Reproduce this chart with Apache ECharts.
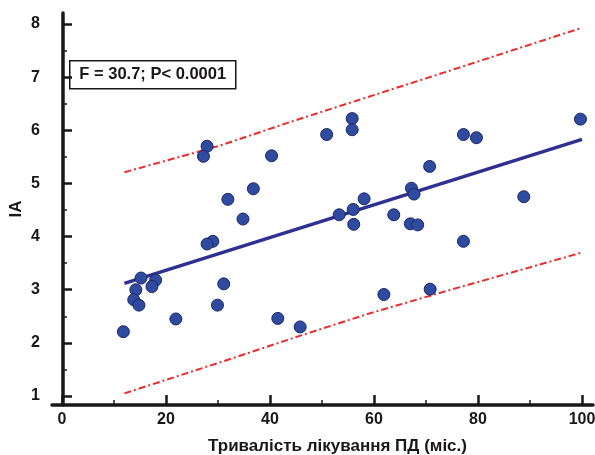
<!DOCTYPE html>
<html>
<head>
<meta charset="utf-8">
<script src="https://cdn.jsdelivr.net/npm/echarts@6/dist/echarts.min.js"></script>
<style>
  html, body { margin: 0; padding: 0; background: #fff; }
  #main { width: 595px; height: 455px; }
</style>
</head>
<body>
<div id="main"></div>
<script>
// тривалість лікування (міс.) / IA
var months = [27.9, 27.2, 40.3, 36.8, 31.9, 34.8, 29.0, 27.9,
  15.2, 18.0, 17.3, 14.2, 13.8, 14.8, 31.1, 29.9, 21.9, 11.8,
  50.9, 55.8, 55.8, 70.7, 67.2, 67.7, 58.1, 56.0, 53.3, 56.1, 63.8, 67.0, 68.4,
  41.5, 45.8, 61.9, 70.8,
  77.2, 79.7, 99.7, 88.8, 77.2];
var iaValues = [5.70, 5.51, 5.52, 4.90, 4.70, 4.33, 3.91, 3.86,
  3.22, 3.18, 3.06, 3.00, 2.81, 2.71, 3.11, 2.71, 2.45, 2.21,
  5.92, 6.22, 6.01, 5.32, 4.91, 4.80, 4.71, 4.51, 4.41, 4.23, 4.41, 4.24, 4.22,
  2.46, 2.30, 2.91, 3.01,
  5.92, 5.86, 6.21, 4.75, 3.91];

// лінія регресії
var fitX = [12, 100];
var fitY = [3.12, 5.83];

// межі (червоні)
var bandX = [12, 30, 44, 58, 72, 100];
var upperY = [5.21, 5.70, 6.16, 6.60, 7.04, 7.93];
var bandLowX = [12, 30, 46, 59, 73, 100];
var lowerY = [1.05, 1.62, 2.14, 2.55, 2.95, 3.70];

// осі
var xMin = 0, xMax = 100, xStep = 20;
var yMin = 1, yMax = 8, yStep = 1;

var statText = 'F = 30.7; P< 0.0001';

function zip(a, b) {
  return a.map(function (v, i) { return [v, b[i]]; });
}

var chartDom = document.getElementById('main');
var myChart = echarts.init(chartDom);
var ink = '#1A1718';
var font = 'Arial, "Liberation Sans", sans-serif';

var option = {
  animation: false,
  backgroundColor: '#fff',
  grid: [
    // рамка осей (лінії трохи довші за діапазон даних)
    { left: 52, right: 2, top: 13, bottom: 50, outerBoundsMode: 'none', containLabel: false },
    // область даних 0..100 x 1..8
    { left: 62, right: 13, top: 24, bottom: 59, outerBoundsMode: 'none', containLabel: false }
  ],
  xAxis: [
    {
      gridIndex: 0, type: 'value', position: 'bottom', min: -2, max: 102,
      name: 'Тривалість лікування ПД (міс.)',
      nameLocation: 'middle', nameGap: 33,
      nameTextStyle: { color: ink, fontSize: 17, fontWeight: 'bold', fontFamily: font, padding: [0, 0, 0, 30] },
      axisLine: { show: true, lineStyle: { color: ink, width: 3.5 } },
      axisTick: { show: false },
      axisLabel: { show: false },
      splitLine: { show: false }
    },
    {
      gridIndex: 1, type: 'value', position: 'bottom', min: xMin, max: xMax, interval: xStep,
      offset: 9,
      axisLine: { show: false },
      axisTick: { show: true, inside: true, length: 10, lineStyle: { color: ink, width: 2.5 } },
      minorTick: { show: true, splitNumber: 2, length: 5, lineStyle: { color: ink, width: 1.5 } },
      axisLabel: { color: ink, fontSize: 16, fontWeight: 'bold', fontFamily: font, margin: 7 },
      splitLine: { show: false }
    }
  ],
  yAxis: [
    {
      gridIndex: 0, type: 'value', position: 'left', min: 0.83, max: 8.2,
      name: 'IA', nameLocation: 'middle', nameGap: 27, nameRotate: 90,
      nameTextStyle: { color: ink, fontSize: 17, fontWeight: 'bold', fontFamily: font },
      axisLine: { show: true, lineStyle: { color: ink, width: 3.5 } },
      axisTick: { show: false },
      axisLabel: { show: false },
      splitLine: { show: false }
    },
    {
      gridIndex: 1, type: 'value', position: 'left', min: yMin, max: yMax, interval: yStep,
      offset: 10,
      axisLine: { show: false },
      axisTick: { show: true, inside: true, length: 10, lineStyle: { color: ink, width: 2.5 } },
      minorTick: { show: true, splitNumber: 2, length: 5, lineStyle: { color: ink, width: 1.5 } },
      axisLabel: { color: ink, fontSize: 16, fontWeight: 'bold', fontFamily: font, margin: 12 },
      splitLine: { show: false }
    }
  ],
  graphic: [
    {
      type: 'group', left: 69, top: 60,
      children: [
        { type: 'rect', shape: { x: 0, y: 0, width: 166, height: 28 },
          style: { fill: '#fff', stroke: ink, lineWidth: 1.5 } },
        { type: 'text', x: 83, y: 14,
          style: { text: statText, fill: ink, font: 'bold 16.5px ' + font, align: 'center', verticalAlign: 'middle' } }
      ]
    }
  ],
  series: [
    {
      type: 'line', xAxisIndex: 1, yAxisIndex: 1, data: zip(bandX, upperY), showSymbol: false,
      lineStyle: { color: '#EE2A2A', width: 2, type: [7, 3, 2, 3] }, z: 2
    },
    {
      type: 'line', xAxisIndex: 1, yAxisIndex: 1, data: zip(bandLowX, lowerY), showSymbol: false,
      lineStyle: { color: '#EE2A2A', width: 2, type: [7, 3, 2, 3] }, z: 2
    },
    {
      type: 'line', xAxisIndex: 1, yAxisIndex: 1, data: zip(fitX, fitY), showSymbol: false,
      lineStyle: { color: '#2E3192', width: 3.5 }, z: 3
    },
    {
      type: 'scatter', xAxisIndex: 1, yAxisIndex: 1, data: zip(months, iaValues), symbolSize: 12,
      itemStyle: { color: '#2F4BA0', borderColor: '#1B2768', borderWidth: 1, opacity: 1 }, z: 4
    }
  ]
};

myChart.setOption(option);
</script>
</body>
</html>
